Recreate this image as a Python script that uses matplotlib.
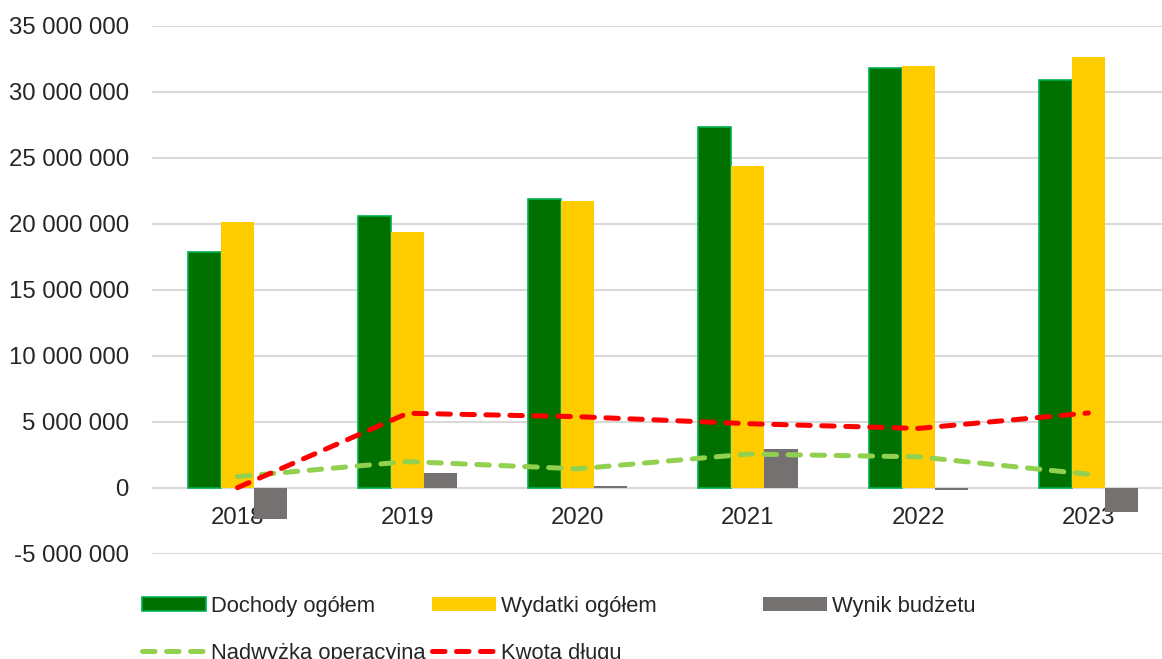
import matplotlib
matplotlib.use("Agg")
import matplotlib.pyplot as plt
from matplotlib.patches import Patch
from matplotlib.lines import Line2D
import numpy as np

# dane (zl)
lata = ["2018", "2019", "2020", "2021", "2022", "2023"]
dochody = [17830000, 20600000, 21900000, 27300000, 31800000, 30860000]
wydatki = [20130000, 19400000, 21750000, 24350000, 31950000, 32630000]
wynik = [-2370000, 1100000, 100000, 2900000, -180000, -1860000]
nadwyzka = [840000, 1980000, 1430000, 2550000, 2340000, 1020000]
kwota_dlugu = [0, 5640000, 5380000, 4850000, 4490000, 5660000]

y_ticks = [-5000000, 0, 5000000, 10000000, 15000000, 20000000,
           25000000, 30000000, 35000000]

c_doch = "#007000"
c_doch_edge = "#00B050"
c_wyd = "#FFCC00"
c_wyn = "#767171"
c_nadw = "#92D050"
c_dlug = "#FF0000"
c_txt = "#262626"

plt.rcParams['font.family'] = ['Liberation Sans', 'DejaVu Sans']
FS = 17.3
FS_LEG = 15.8

fig = plt.figure(figsize=(11.62, 6.59), dpi=100)
W, H = 1162, 659
# os szersza niz rysunek - w oryginale ostatnia kategoria wychodzi poza kadr
ax = fig.add_axes([152.4 / W, 1 - 553.7 / H, 1021 / W, (553.7 - 25.7) / H])

x = np.arange(len(lata))
bw = 0.194
ax.bar(x - bw, dochody, bw, color=c_doch, edgecolor=c_doch_edge, linewidth=1.2, zorder=2)
ax.bar(x, wydatki, bw, color=c_wyd, zorder=2)
ax.bar(x + bw, wynik, bw, color=c_wyn, zorder=2)

kreska = dict(lw=3.6, dashes=(2.5, 2.3), dash_capstyle='round', solid_capstyle='round')
ax.plot(x, nadwyzka, color=c_nadw, zorder=3, **kreska)
ax.plot(x, kwota_dlugu, color=c_dlug, zorder=4, **kreska)

ax.set_xlim(-0.5, len(lata) - 0.5)
ax.set_ylim(-5000000, 35000000)
ax.set_yticks(y_ticks)
ax.set_yticklabels(["{:,}".format(v).replace(",", " ") for v in y_ticks])
ax.yaxis.grid(True, color="#D9D9D9", lw=1.5, zorder=0)
ax.set_axisbelow(True)

ax.set_xticks(x)
ax.set_xticklabels(lata)
ax.spines['bottom'].set_position(('data', 0))
for s in ax.spines.values():
    s.set_visible(False)
ax.tick_params(axis='x', length=0, pad=14, labelsize=FS, labelcolor=c_txt)
ax.tick_params(axis='y', length=0, pad=17, labelsize=FS, labelcolor=c_txt)

# legenda - trzy kolumny jak w Excelu
h_doch = Patch(facecolor=c_doch, edgecolor=c_doch_edge, linewidth=1.2)
h_wyd = Patch(facecolor=c_wyd)
h_wyn = Patch(facecolor=c_wyn)
h_nadw = Line2D([], [], color=c_nadw, **kreska)
h_dlug = Line2D([], [], color=c_dlug, **kreska)

kolumny = [
    (142, [h_doch, h_nadw], ["Dochody ogółem", "Nadwyżka operacyjna"]),
    (432, [h_wyd, h_dlug], ["Wydatki ogółem", "Kwota długu"]),
    (763, [h_wyn], ["Wynik budżetu"]),
]
for px, hs, ls in kolumny:
    fig.legend(hs, ls, loc='upper left', bbox_to_anchor=(px / W, 1 - 596 / H),
               frameon=False, fontsize=FS_LEG, borderpad=0, borderaxespad=0,
               handlelength=2.9, handleheight=0.63, handletextpad=0.26,
               labelspacing=1.18, labelcolor=c_txt)

fig.savefig("out.png", dpi=100)
